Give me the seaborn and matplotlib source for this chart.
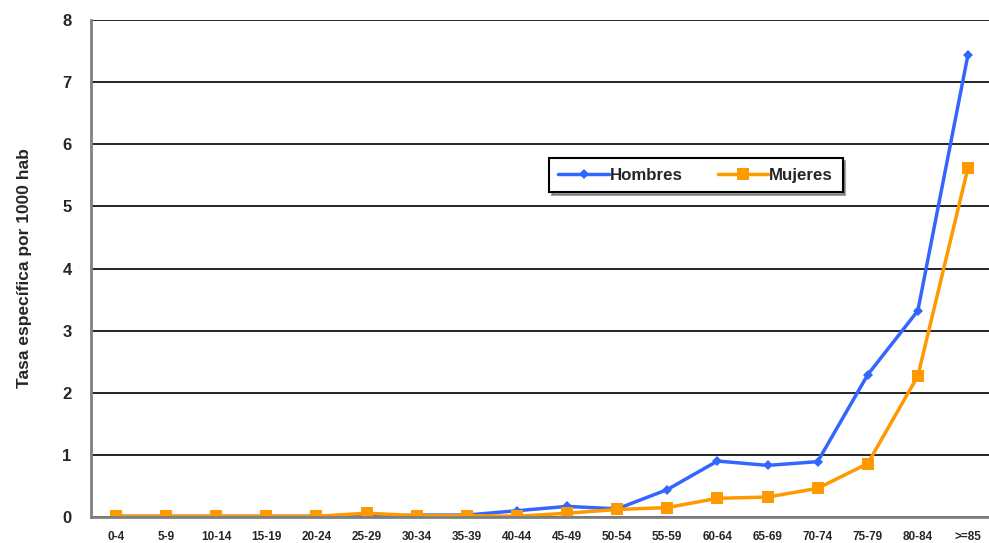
import pandas as pd
import numpy as np
import matplotlib.pyplot as plt
import seaborn as sns

grupos = ["0-4", "5-9", "10-14", "15-19", "20-24", "25-29", "30-34", "35-39", "40-44",
          "45-49", "50-54", "55-59", "60-64", "65-69", "70-74", "75-79", "80-84", ">=85"]
hombres = [0.01, 0.01, 0.01, 0.01, 0.01, 0.0, 0.03, 0.03, 0.10,
           0.17, 0.13, 0.44, 0.90, 0.83, 0.89, 2.29, 3.32, 7.44]
mujeres = [0.01, 0.01, 0.01, 0.01, 0.01, 0.06, 0.02, 0.02, 0.01,
           0.06, 0.12, 0.15, 0.30, 0.32, 0.46, 0.86, 2.27, 5.62]

df = pd.DataFrame({"grupo": grupos * 2,
                   "tasa": hombres + mujeres,
                   "sexo": ["Hombres"] * len(grupos) + ["Mujeres"] * len(grupos)})

sns.set_style("white")
plt.rcParams['font.family'] = ['Liberation Sans', 'DejaVu Sans']

fig = plt.figure(figsize=(9.89, 5.43), dpi=100)
ax = fig.add_axes([0.092, 0.048, 0.908, 0.915])

sns.lineplot(data=df, x="grupo", y="tasa", hue="sexo", style="sexo",
             palette={"Hombres": "#3366FF", "Mujeres": "#FF9900"},
             markers={"Hombres": "D", "Mujeres": "s"},
             dashes=False, linewidth=2.5, sort=False, ax=ax,
             markersize=6, markeredgewidth=0)
for line in ax.lines:
    if line.get_marker() == "D":
        line.set_markersize(5)
    elif line.get_marker() == "s":
        line.set_markersize(8)

ax.set_ylim(0, 8)
ax.set_xlim(-0.5, 17.42)
ax.set_yticks(range(0, 9))
ax.yaxis.grid(True, color="black", linewidth=1.2)
ax.xaxis.grid(False)
ax.set_axisbelow(True)
for s in ["top", "right"]:
    ax.spines[s].set_visible(False)
ax.spines["left"].set_color("#808080")
ax.spines["left"].set_linewidth(2)
ax.spines["bottom"].set_color("#808080")
ax.spines["bottom"].set_linewidth(2)
ax.tick_params(axis="y", length=0, pad=14, labelsize=12)
ax.tick_params(axis="x", length=0, pad=10, labelsize=8.5)
for t in ax.get_xticklabels() + ax.get_yticklabels():
    t.set_fontweight("bold")
ax.set_xlabel("")
ax.set_ylabel("Tasa específica por 1000 hab", fontsize=12.5, fontweight="bold", labelpad=22)

leg = ax.legend(title=None, loc="upper left", bbox_to_anchor=(0.5005, 0.739), ncol=2,
                frameon=True, fancybox=False, shadow=True, fontsize=12.2,
                borderpad=0.55, columnspacing=2.05, handlelength=3.0, handletextpad=0.05)
leg.get_frame().set_edgecolor("black")
leg.get_frame().set_linewidth(1.5)
for t in leg.get_texts():
    t.set_fontweight("bold")

plt.savefig("out.png", dpi=100)
